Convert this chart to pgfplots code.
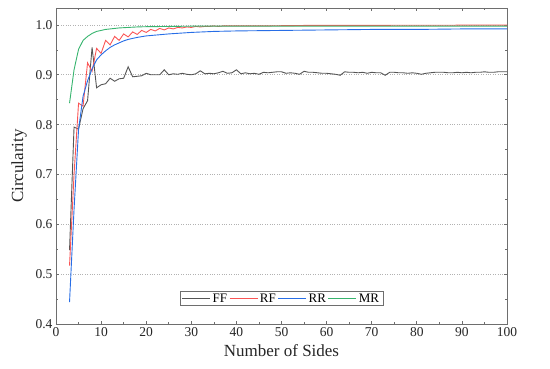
\documentclass[border=0pt]{standalone}
\usepackage{fontspec}
\setmainfont{Liberation Serif}
\usepackage{pgfplots}
\pgfplotsset{compat=1.18}
\definecolor{cFF}{RGB}{85,85,85}
\definecolor{cRF}{RGB}{250,85,85}
\definecolor{cRR}{RGB}{40,110,230}
\definecolor{cMR}{RGB}{55,180,110}
\definecolor{frame}{RGB}{110,110,110}
\begin{document}
\begin{tikzpicture}
\begin{axis}[
  scale only axis,
  width=451pt, height=316pt,
  xmin=0, xmax=100, ymin=0.4, ymax=1.034,
  xtick={0,10,20,30,40,50,60,70,80,90,100},
  xticklabels={0,10,20,30,40,50,60,70,80,90,100},
  ytick={0.4,0.5,0.6,0.7,0.8,0.9,1.0},
  yticklabels={0.4,0.5,0.6,0.7,0.8,0.9,1.0},
  minor x tick num=1,
  minor y tick num=1,
  tick align=inside,
  major tick length=3pt,
  minor tick length=2pt,
  axis line style={frame, line width=0.9pt},
  every tick/.style={frame, line width=0.7pt},
  ymajorgrids,
  grid style={dotted, gray!60, line width=0.7pt},
  tick label style={font=\rmfamily\fontsize{13.5}{15}\selectfont, text=black!85},
  xlabel={Number of Sides},
  ylabel={Circularity},
  label style={font=\fontsize{17}{19}\selectfont, text=black!85},
  xlabel style={yshift=-1pt},
  ylabel style={yshift=2pt},
  legend columns=4,
  legend style={at={(0.5,0.057)}, anchor=south, draw=frame, line width=0.6pt,
    font=\fontsize{13}{14}\selectfont, inner xsep=2pt, inner ysep=0pt,
    /tikz/every even column/.style={column sep=0pt}},
  legend image code/.code={\draw[#1, line width=0.8pt] (0pt,0pt) -- (28pt,0pt);},
  every axis plot/.append style={line width=0.9pt},
]
\addplot[cFF] coordinates {
(3,0.548)(4,0.795)(5,0.791)(6,0.832)(7,0.848)(8,0.955)(9,0.874)(10,0.880)
(11,0.882)(12,0.893)(13,0.887)(14,0.892)(15,0.893)(16,0.916)(17,0.896)(18,0.897)
(19,0.898)(20,0.903)(21,0.900)(22,0.900)(23,0.900)(24,0.910)(25,0.900)(26,0.902)
(27,0.901)(28,0.903)(29,0.901)(30,0.900)(31,0.902)(32,0.908)(33,0.902)(34,0.903)
(35,0.902)(36,0.904)(37,0.907)(38,0.903)(39,0.904)(40,0.910)(41,0.902)(42,0.904)
(43,0.902)(44,0.903)(45,0.901)(46,0.905)(47,0.904)(48,0.905)(49,0.906)(50,0.906)
(51,0.903)(52,0.904)(53,0.903)(54,0.901)(55,0.907)(56,0.905)(57,0.905)(58,0.904)
(59,0.903)(60,0.903)(61,0.902)(62,0.901)(63,0.899)(64,0.906)(65,0.905)(66,0.905)
(67,0.904)(68,0.905)(69,0.903)(70,0.905)(71,0.904)(72,0.904)(73,0.899)(74,0.905)
(75,0.905)(76,0.904)(77,0.904)(78,0.903)(79,0.904)(80,0.903)(81,0.901)(82,0.903)
(83,0.904)(84,0.905)(85,0.905)(86,0.905)(87,0.904)(88,0.904)(89,0.905)(90,0.904)
(91,0.905)(92,0.904)(93,0.905)(94,0.905)(95,0.906)(96,0.905)(97,0.905)(98,0.906)
(99,0.906)(100,0.906)};
\addlegendentry{FF}
\addplot[cRF] coordinates {
(3,0.517)(4,0.700)(5,0.843)(6,0.837)(7,0.924)(8,0.907)(9,0.953)(10,0.943)
(11,0.969)(12,0.960)(13,0.977)(14,0.969)(15,0.982)(16,0.976)(17,0.986)(18,0.981)
(19,0.989)(20,0.985)(21,0.991)(22,0.988)(23,0.993)(24,0.990)(25,0.994)(26,0.992)
(27,0.995)(28,0.994)(29,0.996)(30,0.995)(31,0.997)(32,0.996)(33,0.997)(34,0.997)
(35,0.998)(36,0.997)(37,0.998)(38,0.998)(40,0.998)(45,0.998)(50,0.9985)(55,0.999)
(60,0.999)(70,0.9992)(80,0.9994)(90,0.9995)(100,0.9995)};
\addlegendentry{RF}
\addplot[cRR] coordinates {
(3,0.444)(4,0.630)(5,0.790)(6,0.857)(7,0.888)(8,0.912)(9,0.930)(10,0.940)
(11,0.948)(12,0.955)(13,0.960)(14,0.964)(15,0.968)(16,0.971)(18,0.975)(20,0.978)
(25,0.982)(30,0.985)(35,0.987)(40,0.988)(50,0.989)(60,0.990)(70,0.991)(80,0.991)
(90,0.992)(100,0.992)};
\addlegendentry{RR}
\addplot[cMR] coordinates {
(3,0.843)(4,0.910)(5,0.951)(6,0.969)(7,0.977)(8,0.983)(9,0.987)(10,0.989)
(11,0.991)(12,0.992)(14,0.994)(16,0.995)(18,0.996)(20,0.9965)(25,0.997)(30,0.9975)
(40,0.9975)(60,0.9975)(80,0.9975)(100,0.9975)};
\addlegendentry{MR}
\end{axis}
\path (current axis.south west) ++(-56pt,-44pt) coordinate (bl);
\path (current axis.north east) ++(43pt,8pt) coordinate (tr);
\path (bl) rectangle (tr);
\end{tikzpicture}
\end{document}
